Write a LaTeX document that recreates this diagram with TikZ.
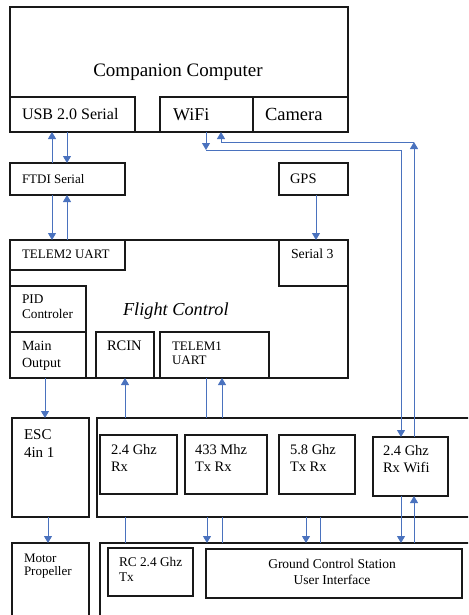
\documentclass[tikz,border=0pt]{standalone}
\usepackage{fontspec}
\setmainfont{Liberation Serif}
\usetikzlibrary{arrows.meta}
\definecolor{arrblue}{RGB}{74,114,190}
\newcommand\mlines[2]{\begin{tabular}[t]{@{}#1@{}}#2\end{tabular}}
\begin{document}
\begin{tikzpicture}[x=1pt,y=-1pt,
 box/.style={draw=black!90,line width=1.2pt,inner sep=0,outer sep=0,anchor=north west},
 lbl/.style={inner sep=0,outer sep=0,anchor=base west,font=\fontsize{14}{17}\selectfont},
 arr/.style={draw=arrblue,line width=1pt,-{Triangle[width=8pt,length=7pt]}},
 ln/.style={draw=arrblue,line width=1pt}]
\useasboundingbox (0,0) rectangle (468,615);
\clip (0,0) rectangle (468,615);
% Companion computer
\node[box,minimum width=338pt,minimum height=125pt] (cc) at (10,7) {};
\node[box,minimum width=125pt,minimum height=35pt] (usb) at (10,97) {};
\node[box,minimum width=93pt,minimum height=35pt] (wifi) at (160,97) {};
\node[box,minimum width=95pt,minimum height=35pt] (cam) at (253,97) {};
\node[box,minimum width=115pt,minimum height=32pt] (ftdi) at (10,163) {};
\node[box,minimum width=69pt,minimum height=32pt] (gps) at (279,163) {};
% Flight control
\node[box,minimum width=338pt,minimum height=138pt] (fc) at (10,240) {};
\node[box,minimum width=115pt,minimum height=30pt] (tel2) at (10,240) {};
\node[box,minimum width=69pt,minimum height=46pt] (ser3) at (279,240) {};
\node[box,minimum width=76pt,minimum height=46pt] (pid) at (10,286) {};
\node[box,minimum width=76pt,minimum height=46pt] (mo) at (10,332) {};
\node[box,minimum width=58pt,minimum height=46pt] (rcin) at (96,332) {};
\node[box,minimum width=109pt,minimum height=46pt] (tel1) at (160,332) {};
% Radios
\node[box,minimum width=77pt,minimum height=99pt] (esc) at (12,418) {};
\node[box,minimum width=383pt,minimum height=99pt] (air) at (97,418) {};
\node[box,minimum width=77pt,minimum height=59pt] (rx24) at (100,435) {};
\node[box,minimum width=82pt,minimum height=59pt] (t433) at (185,435) {};
\node[box,minimum width=76pt,minimum height=59pt] (t58) at (279,435) {};
\node[box,minimum width=75pt,minimum height=59pt] (rxwifi) at (373,437) {};
% Ground
\node[box,minimum width=77pt,minimum height=90pt] (motor) at (12,543) {};
\node[box,minimum width=380pt,minimum height=90pt] (gnd) at (100,543) {};
\node[box,minimum width=85pt,minimum height=48pt] (rctx) at (108,548) {};
\node[box,minimum width=256pt,minimum height=49pt] (gcs) at (206,549) {};
% Labels
\node[lbl,anchor=base,font=\fontsize{19}{22}\selectfont] (cct) at (178,77) {Companion Computer};
\node[lbl,font=\fontsize{16}{19}\selectfont] (usbt) at (22,120) {USB 2.0 Serial};
\node[lbl,font=\fontsize{18}{21}\selectfont] (wifit) at (173,121) {WiFi};
\node[lbl,font=\fontsize{18.5}{21}\selectfont] (camt) at (265,121) {Camera};
\node[lbl,font=\fontsize{13}{15}\selectfont] (ftdit) at (22,183) {FTDI Serial};
\node[lbl,font=\fontsize{14.5}{17}\selectfont] (gpst) at (290,183) {GPS};
\node[lbl,font=\fontsize{13}{15}\selectfont] (tel2t) at (22,258) {TELEM2 UART};
\node[lbl,font=\fontsize{13.8}{16}\selectfont] (ser3t) at (291,258) {Serial 3};
\node[lbl,font=\fontsize{13.3}{15}\selectfont] (pidt) at (22,303) {\mlines{l}{PID\\Controler}};
\node[lbl,font=\fontsize{18.3}{21}\selectfont\itshape] (fct) at (123,315) {Flight Control};
\node[lbl,font=\fontsize{14}{17}\selectfont] (mot) at (22,350) {\mlines{l}{Main\\Output}};
\node[lbl,font=\fontsize{14.5}{17}\selectfont] (rcint) at (107,350) {RCIN};
\node[lbl,font=\fontsize{13}{14}\selectfont] (tel1t) at (172,350) {\mlines{l}{TELEM1\\UART}};
\node[lbl,font=\fontsize{15}{18}\selectfont] (esct) at (24,439) {\mlines{l}{ESC\\4in 1}};
\node[lbl,font=\fontsize{14.5}{17}\selectfont] (rx24t) at (111,454) {\mlines{l}{2.4 Ghz\\Rx}};
\node[lbl,font=\fontsize{14.5}{17}\selectfont] (t433t) at (195,454) {\mlines{l}{433 Mhz\\Tx Rx}};
\node[lbl,font=\fontsize{14.5}{17}\selectfont] (t58t) at (290,454) {\mlines{l}{5.8 Ghz\\Tx Rx}};
\node[lbl,font=\fontsize{14.5}{17}\selectfont] (rxwt) at (383,455) {\mlines{l}{2.4 Ghz\\Rx Wifi}};
\node[lbl,font=\fontsize{13}{13}\selectfont] (motort) at (24,562) {\mlines{l}{Motor\\Propeller}};
\node[lbl,font=\fontsize{13.3}{15}\selectfont] (rctxt) at (119,566) {\mlines{l}{RC 2.4 Ghz\\Tx}};
\node[lbl,anchor=base,font=\fontsize{13.5}{16}\selectfont] (gcst) at (332,568) {\mlines{c}{Ground Control Station\\User Interface}};
% Connectors: companion <-> FTDI <-> flight control
\draw[arr] ([xshift=42pt]ftdi.north west) -- ([xshift=42pt]usb.south west);
\draw[arr] ([xshift=57pt]usb.south west) -- ([xshift=57pt]ftdi.north west);
\draw[arr] ([xshift=42pt]ftdi.south west) -- ([xshift=42pt]tel2.north west);
\draw[arr] ([xshift=57pt]tel2.north west) -- ([xshift=57pt]ftdi.south west);
\draw[arr] ([xshift=37pt]gps.south west) -- ([xshift=37pt]ser3.north west);
% WiFi links
\coordinate (wd) at (206,150);
\coordinate (wdr) at (401,150);
\coordinate (wur) at (414,142);
\coordinate (wul) at (221,142);
\draw[arr] ([xshift=46pt]wifi.south west) -- (wd);
\draw[arr] (wd) -- (wdr) -- ([xshift=28pt]rxwifi.north west);
\draw[arr] ([xshift=41pt]rxwifi.north west) -- (wur);
\draw[arr] (wur) -- (wul) -- ([xshift=61pt]wifi.south west);
% Flight control <-> ESC / radios
\draw[arr] ([xshift=35pt]mo.south west) -- ([xshift=33pt]esc.north west);
\draw[arr] ([xshift=36pt]esc.south west) -- ([xshift=36pt]motor.north west);
\draw[arr] ([xshift=28pt]air.north west) -- ([xshift=29pt]rcin.south west);
\draw[ln] ([xshift=46pt]tel1.south west) -- ([xshift=109pt]air.north west);
\draw[arr] ([xshift=125pt]air.north west) -- ([xshift=62pt]tel1.south west);
% Radios <-> ground
\draw[ln] ([xshift=28pt]air.south west) -- ([xshift=25pt]gnd.north west);
\draw[arr] ([xshift=110pt]air.south west) -- ([xshift=107pt]gnd.north west);
\draw[ln] ([xshift=122pt]gnd.north west) -- ([xshift=125pt]air.south west);
\draw[arr] ([xshift=209pt]air.south west) -- ([xshift=206pt]gnd.north west);
\draw[ln] ([xshift=220pt]gnd.north west) -- ([xshift=223pt]air.south west);
\draw[arr] ([xshift=28pt]rxwifi.south west) -- ([xshift=301pt]gnd.north west);
\draw[arr] ([xshift=314pt]gnd.north west) -- ([xshift=41pt]rxwifi.south west);
\end{tikzpicture}
\end{document}
